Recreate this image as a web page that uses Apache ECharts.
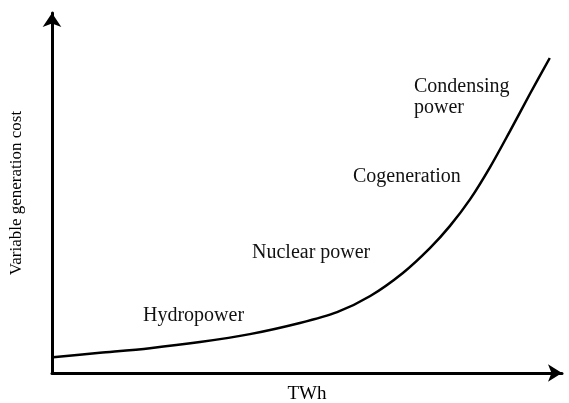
<!DOCTYPE html>
<html>
<head>
<meta charset="utf-8">
<script src="https://cdn.jsdelivr.net/npm/echarts@6/dist/echarts.min.js"></script>
<style>
  html, body { margin: 0; padding: 0; background: #fff; }
  #main { width: 569px; height: 403px; }
</style>
</head>
<body>
<div id="main"></div>
<script>
  // supply curve (arbitrary units)
  var twh =  [0.2, 9.4, 19.2, 29.0, 38.8, 48.6, 55.9, 62.4, 68.8, 74.1, 78.0, 82.0, 85.9, 89.8, 93.7, 97.6];
  var cost = [4.4, 5.6, 6.9, 8.6, 10.8, 13.9, 16.9, 21.4, 27.8, 34.7, 40.8, 48.3, 57.2, 67.2, 77.5, 87.5];

  var xName = 'TWh';
  var yName = 'Variable generation cost';

  var myChart = echarts.init(document.getElementById('main'));
  var serif = '"Liberation Serif", "Times New Roman", serif';

  var pts = [];
  for (var i in twh) {
    pts.push([twh[i], cost[i]]);
  }

  myChart.setOption({
    animation: false,
    grid: { left: 52, right: 7, top: 13, bottom: 30, containLabel: false, outerBoundsMode: 'none' },
    xAxis: {
      type: 'value', min: 0, max: 100,
      name: xName, nameLocation: 'middle', nameGap: 12,
      nameTextStyle: { fontFamily: serif, fontSize: 19, color: '#000' },
      axisLine: { show: true, symbol: ['none', 'arrow'], symbolSize: [13, 14], lineStyle: { color: '#000', width: 3 } },
      axisTick: { show: false }, axisLabel: { show: false }, splitLine: { show: false }
    },
    yAxis: {
      type: 'value', min: 0, max: 100,
      name: yName, nameLocation: 'middle', nameGap: 27, nameRotate: 90,
      nameTextStyle: { fontFamily: serif, fontSize: 17, color: '#000' },
      axisLine: { show: true, symbol: ['none', 'arrow'], symbolSize: [14, 14], lineStyle: { color: '#000', width: 3 } },
      axisTick: { show: false }, axisLabel: { show: false }, splitLine: { show: false }
    },
    graphic: [
      { type: 'text', left: 414, top: 76, style: { text: 'Condensing\npower', font: '20px ' + serif, fill: '#111', lineHeight: 21 } },
      { type: 'text', left: 353, top: 167, style: { text: 'Cogeneration', font: '20px ' + serif, fill: '#111' } },
      { type: 'text', left: 252, top: 243, style: { text: 'Nuclear power', font: '20px ' + serif, fill: '#111' } },
      { type: 'text', left: 143, top: 306, style: { text: 'Hydropower', font: '20px ' + serif, fill: '#111' } }
    ],
    series: [{
      type: 'line',
      data: pts,
      smooth: 0.3,
      showSymbol: false,
      lineStyle: { color: '#000', width: 2.5 }
    }]
  });
</script>
</body>
</html>
